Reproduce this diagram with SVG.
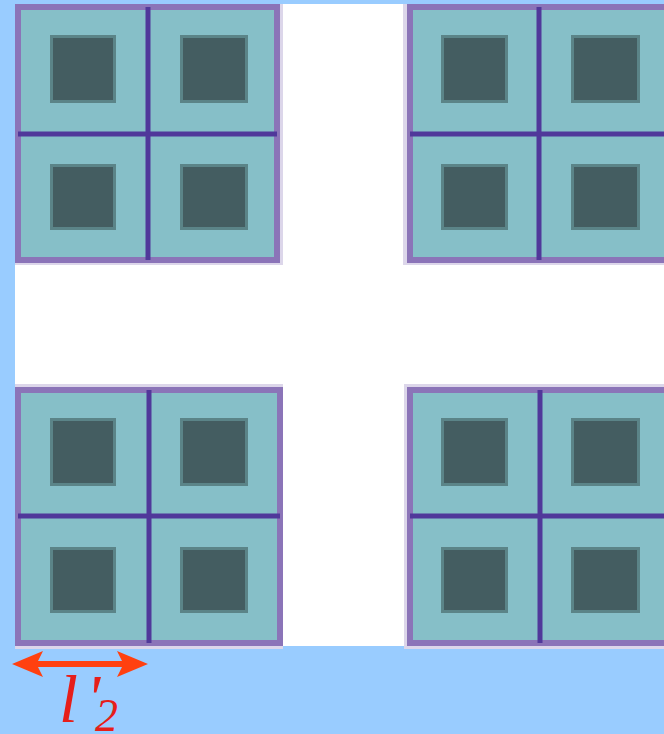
<svg xmlns="http://www.w3.org/2000/svg" width="664" height="734" viewBox="0 0 664 734">
<style>
.halo{fill:#DCD6EA}
.blk{fill:#86BFC8;stroke:#8B74B8;stroke-width:6}
.div{stroke:#50389A;stroke-width:5;fill:none}
.sq{fill:#445D61;stroke:#5B8488;stroke-width:3}
.arr{fill:#FF4010}
.lbl{font-family:"Liberation Serif",serif;font-style:italic;fill:#E61E1A}
</style>
<rect x="0" y="0" width="664" height="734" fill="#99CCFF"/>
<rect x="15" y="4" width="649" height="642" fill="#FFFFFF"/>

<g id="block-top-left">
<rect class="halo" x="15" y="4" width="268" height="261"/>
<rect class="blk" x="18" y="7" width="259" height="253"/>
<path class="div" d="M148 7V260M18 134H277"/>
<rect class="sq" x="51.5" y="36.5" width="63" height="65"/>
<rect class="sq" x="181.5" y="36.5" width="65" height="65"/>
<rect class="sq" x="51.5" y="165.5" width="63" height="63"/>
<rect class="sq" x="181.5" y="165.5" width="65" height="63"/>
</g>

<g id="block-top-right">
<rect class="halo" x="403" y="4" width="265" height="261"/>
<rect class="blk" x="410" y="7" width="260" height="253"/>
<path class="div" d="M539 7V260M410 134H670"/>
<rect class="sq" x="442.5" y="36.5" width="64" height="65"/>
<rect class="sq" x="572.5" y="36.5" width="66" height="65"/>
<rect class="sq" x="442.5" y="165.5" width="64" height="63"/>
<rect class="sq" x="572.5" y="165.5" width="66" height="63"/>
</g>

<g id="block-bottom-left">
<rect class="halo" x="15" y="384" width="268" height="265"/>
<rect class="blk" x="18" y="390" width="262" height="253"/>
<path class="div" d="M149 390V643M18 516H280"/>
<rect class="sq" x="51.5" y="419.5" width="63" height="65"/>
<rect class="sq" x="181.5" y="419.5" width="65" height="65"/>
<rect class="sq" x="51.5" y="548.5" width="63" height="63"/>
<rect class="sq" x="181.5" y="548.5" width="65" height="63"/>
</g>

<g id="block-bottom-right">
<rect class="halo" x="404" y="384" width="264" height="265"/>
<rect class="blk" x="410" y="390" width="260" height="253"/>
<path class="div" d="M540 390V643M410 516H670"/>
<rect class="sq" x="442.5" y="419.5" width="64" height="65"/>
<rect class="sq" x="572.5" y="419.5" width="66" height="65"/>
<rect class="sq" x="442.5" y="548.5" width="64" height="63"/>
<rect class="sq" x="572.5" y="548.5" width="66" height="63"/>
</g>

<g id="connectors">
<path class="arr" d="M12 664L43 651L38 661H122L117 651L148 664L117 677L122 667H38L43 677Z"/>
</g>

<g id="label">
<text class="lbl" x="59" y="722" font-size="68">l<tspan x="86" y="720" font-size="66">'</tspan><tspan x="95" y="731" font-size="46">2</tspan></text>
</g>
</svg>
